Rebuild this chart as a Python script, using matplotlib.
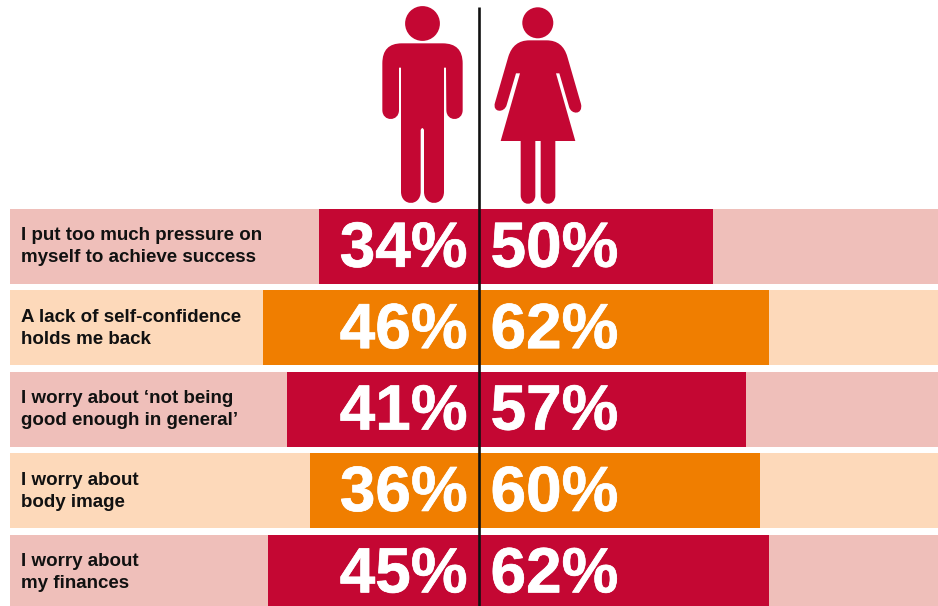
import matplotlib
matplotlib.use("Agg")
import matplotlib.pyplot as plt
from matplotlib.patches import Circle, PathPatch
from matplotlib.path import Path
import matplotlib.patheffects as pe

plt.rcParams["font.family"] = ["Liberation Sans", "DejaVu Sans"]

statements = [
    ("I put too much pressure on", "myself to achieve success"),
    ("A lack of self-confidence", "holds me back"),
    ("I worry about ‘not being", "good enough in general’"),
    ("I worry about", "body image"),
    ("I worry about", "my finances"),
]
men = [34, 46, 41, 36, 45]
women = [50, 62, 57, 60, 62]
strong = ["#C40733", "#F07E00", "#C40733", "#F07E00", "#C40733"]
pale = ["#EFBFBA", "#FDD9BA", "#EFBFBA", "#FDD9BA", "#EFBFBA"]

W, H = 938, 606
CENTRE_PX = 478.6
PX_PER_PCT = 4.685
ROW_PITCH = 81.4
FIRST_ROW_PX = 246.5

fig = plt.figure(figsize=(W / 100, H / 100), dpi=100, facecolor="white")

# Bars live on a percent scale with rows as categories
ax = fig.add_axes([0, 0, 1, 1])
ax.set_xlim(-CENTRE_PX / PX_PER_PCT, (W - CENTRE_PX) / PX_PER_PCT)
ax.set_ylim((H - FIRST_ROW_PX) / ROW_PITCH, -FIRST_ROW_PX / ROW_PITCH)
ax.axis("off")

rows = list(range(len(statements)))
h = 75 / ROW_PITCH
ax.barh(rows, [-100] * 5, height=h, color=pale, linewidth=0)
ax.barh(rows, [100] * 5, height=h, color=pale, linewidth=0)
ax.barh(rows, [-v for v in men], height=h, color=strong, linewidth=0)
ax.barh(rows, women, height=h, color=strong, linewidth=0)

heavy = [pe.withStroke(linewidth=0.5, foreground="white")]
for r, (line1, line2), m, w in zip(rows, statements, men, women):
    ax.text(-97.7, r - 0.13, line1, ha="left", va="center", fontsize=13.5,
            fontweight="bold", color="#111111")
    ax.text(-97.7, r + 0.14, line2, ha="left", va="center", fontsize=13.5,
            fontweight="bold", color="#111111")
    ax.text(-2.35, r + 0.04, f"{m}%", ha="right", va="center", fontsize=46,
            fontweight="bold", color="white", path_effects=heavy)
    ax.text(2.55, r + 0.04, f"{w}%", ha="left", va="center", fontsize=46,
            fontweight="bold", color="white", path_effects=heavy)

# Overlay in pixel coordinates for the pictograms and the divider
ov = fig.add_axes([0, 0, 1, 1])
ov.set_xlim(0, W)
ov.set_ylim(H, 0)
ov.axis("off")
ov.patch.set_alpha(0)

ICON = "#C40733"
M, L, C3, C4, Z = Path.MOVETO, Path.LINETO, Path.CURVE3, Path.CURVE4, Path.CLOSEPOLY


def outline(steps):
    """Build a closed path from (code, x, y) steps given in a 3x icon grid."""
    verts = [(370 + x / 3, y / 3) for _, x, y in steps]
    codes = [c for c, _, _ in steps]
    return Path(verts + [verts[0]], codes + [Z])


man_steps = [
    (M, 95, 130), (L, 218, 130),
    (C3, 278, 130), (C3, 278, 190),
    (L, 278, 330),
    (C4, 278, 366), (C4, 229, 366), (C4, 229, 330),
    (L, 228, 203), (L, 222, 203),
    (L, 222, 575),
    (C4, 222, 620), (C4, 162, 620), (C4, 162, 575),
    (L, 162, 390),
    (C3, 157, 378), (C3, 152, 390),
    (L, 152, 575),
    (C4, 152, 620), (C4, 93, 620), (C4, 93, 575),
    (L, 93, 203), (L, 87, 203),
    (L, 87, 330),
    (C4, 87, 366), (C4, 37, 366), (C4, 37, 330),
    (L, 37, 190),
    (C3, 37, 130), (C3, 95, 130),
]
woman_steps = [
    (M, 478, 121), (L, 530, 121),
    (C3, 578, 121), (C3, 592, 170),
    (L, 633, 312),
    (C4, 640, 345), (C4, 603, 345), (C4, 597, 320),
    (L, 568, 220), (L, 558, 220),
    (L, 616, 423), (L, 556, 423),
    (L, 556, 585),
    (C4, 556, 620), (C4, 512, 620), (C4, 512, 585),
    (L, 512, 423), (L, 496, 423),
    (L, 496, 585),
    (C4, 496, 620), (C4, 452, 620), (C4, 452, 585),
    (L, 452, 423), (L, 392, 423),
    (L, 450, 220), (L, 438, 220),
    (L, 410, 315),
    (C4, 403, 340), (C4, 366, 338), (C4, 375, 308),
    (L, 415, 170),
    (C3, 430, 121), (C3, 478, 121),
]

ov.add_patch(Circle((422.5, 23.5), 17.4, fc=ICON, ec="none"))
ov.add_patch(PathPatch(outline(man_steps), fc=ICON, ec="none"))
ov.add_patch(Circle((537.8, 22.8), 15.5, fc=ICON, ec="none"))
ov.add_patch(PathPatch(outline(woman_steps), fc=ICON, ec="none"))

ov.plot([478.5] * 2, [7, H], color="#111111", lw=1.9, solid_capstyle="butt")

fig.savefig("out.png", dpi=100, facecolor="white")
